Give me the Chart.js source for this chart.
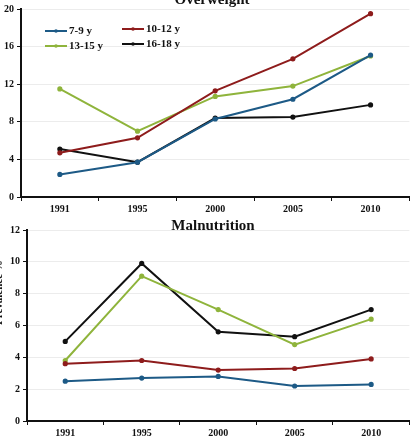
<!DOCTYPE html>
<html>
<head>
<meta charset="utf-8">
<script src="https://cdn.jsdelivr.net/npm/chart.js@4.4.0/dist/chart.umd.min.js"></script>
<style>
  body { margin: 0; background: #fff; width: 413px; height: 439px; overflow: hidden; position: relative; }
  .box { position: absolute; left: 0; width: 413px; }
  .title { position: absolute; font: bold 15px "Liberation Serif", serif; color: #111; white-space: nowrap; transform: translateX(-50%); }
  .ytitle { position: absolute; font: bold 11px "Liberation Serif", serif; color: #111; white-space: nowrap; transform: rotate(-90deg); transform-origin: left top; }
</style>
</head>
<body>
<div class="box" style="top:0;height:217px"><canvas id="overweight"></canvas></div>
<div class="box" style="top:215px;height:226px"><canvas id="malnutrition"></canvas></div>
<div class="title" style="left:212px;top:-9px">Overweight</div>
<div class="title" style="left:213px;top:217px">Malnutrition</div>
<div class="ytitle" style="left:-8px;top:325px">Prevalence %</div>
<script>
const years = ["1991", "1995", "2000", "2005", "2010"];
const groups = ["7-9 y", "10-12 y", "13-15 y", "16-18 y"];
const colors = ["#1d5a86", "#8e1c1c", "#8fb43c", "#111111"];

// Overweight (%)
const overweight_7_9 = [2.4, 3.7, 8.3, 10.4, 15.1];
const overweight_10_12 = [4.7, 6.3, 11.3, 14.7, 19.5];
const overweight_13_15 = [11.5, 7.0, 10.7, 11.8, 15.0];
const overweight_16_18 = [5.1, 3.7, 8.4, 8.5, 9.8];

// Malnutrition (%)
const malnutrition_7_9 = [2.5, 2.7, 2.8, 2.2, 2.3];
const malnutrition_10_12 = [3.6, 3.8, 3.2, 3.3, 3.9];
const malnutrition_13_15 = [3.8, 9.1, 7.0, 4.8, 6.4];
const malnutrition_16_18 = [5.0, 9.9, 5.6, 5.3, 7.0];

const overweightTicks = [0, 4, 8, 12, 16, 20];
const malnutritionTicks = [0, 2, 4, 6, 8, 10, 12];

const tickFont = { family: "Liberation Serif", size: 10, weight: "bold" };

function makeDatasets(series) {
    return series.map((values, i) => ({
        label: groups[i],
        data: values,
        borderColor: colors[i],
        backgroundColor: colors[i],
        borderWidth: 2,
        pointRadius: 1.6,
        pointHoverRadius: 1.6,
        tension: 0
    }));
}

// legend drawn inside the plot, two columns
const innerLegend = {
    id: "innerLegend",
    afterDraw(chart, args, opts) {
        if (!opts.show) return;
        const ctx = chart.ctx;
        ctx.save();
        ctx.font = "bold 11px 'Liberation Serif'";
        ctx.textBaseline = "middle";
        chart.data.datasets.forEach((ds, i) => {
            const col = i % 2, row = Math.floor(i / 2);
            const x = 45 + col * 77;
            const y = 31 + row * 15 - col * 2;
            ctx.strokeStyle = ds.borderColor;
            ctx.fillStyle = ds.borderColor;
            ctx.lineWidth = 2;
            ctx.beginPath();
            ctx.moveTo(x, y);
            ctx.lineTo(x + 22, y);
            ctx.stroke();
            ctx.beginPath();
            ctx.arc(x + 11, y, 1.8, 0, Math.PI * 2);
            ctx.fill();
            ctx.fillStyle = "#111";
            ctx.fillText(ds.label, x + 24, y);
        });
        ctx.restore();
    }
};

function drawChart(id, series, ticks, padding, showLegend) {
    const ctx = document.getElementById(id).getContext("2d");
    return new Chart(ctx, {
        type: "line",
        data: { labels: years, datasets: makeDatasets(series) },
        plugins: [innerLegend],
        options: {
            responsive: true,
            maintainAspectRatio: false,
            animation: false,
            layout: { padding: padding },
            plugins: {
                legend: { display: false },
                tooltip: { enabled: false },
                innerLegend: { show: showLegend }
            },
            scales: {
                x: {
                    offset: true,
                    grid: { drawOnChartArea: false, tickColor: "#111", tickLength: 4, offset: true },
                    border: { color: "#111", width: 2 },
                    ticks: { color: "#111", font: tickFont, padding: 2 }
                },
                y: {
                    min: ticks[0],
                    max: ticks[ticks.length - 1],
                    afterBuildTicks: axis => { axis.ticks = ticks.map(v => ({ value: v })); },
                    grid: { color: "#ececec", tickColor: "#111", tickLength: 4 },
                    border: { color: "#111", width: 2 },
                    ticks: { color: "#111", font: tickFont, padding: 3 }
                }
            }
        }
    });
}

drawChart("overweight",
    [overweight_7_9, overweight_10_12, overweight_13_15, overweight_16_18],
    overweightTicks, { top: 5, right: 3, left: 1, bottom: 0 }, true);

drawChart("malnutrition",
    [malnutrition_7_9, malnutrition_10_12, malnutrition_13_15, malnutrition_16_18],
    malnutritionTicks, { top: 15, right: 0, left: 7, bottom: 0 }, false);
</script>
</body>
</html>
